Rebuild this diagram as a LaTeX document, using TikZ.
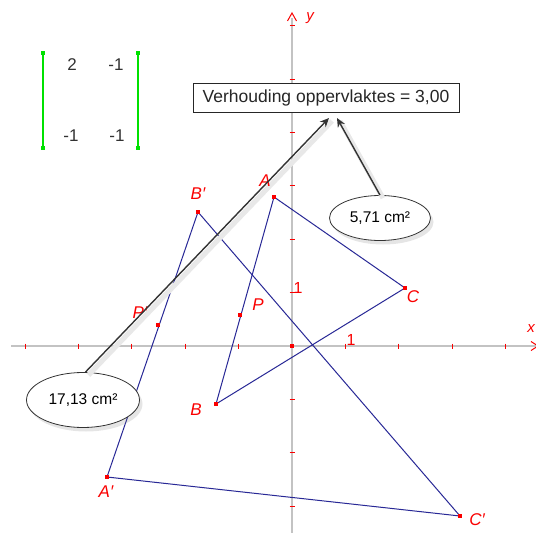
\documentclass[tikz,border=0pt]{standalone}
\usepackage{fontspec}
\setmainfont{Liberation Sans}
\usetikzlibrary{arrows.meta,shapes.geometric,shadows}
\definecolor{polyblue}{RGB}{40,40,150}
\definecolor{axisgray}{RGB}{195,195,195}
\definecolor{ptred}{RGB}{250,0,0}
\definecolor{mgreen}{RGB}{0,225,0}
\definecolor{numgray}{RGB}{50,50,50}
\tikzset{
  pt/.style={fill=ptred, inner sep=0pt, minimum size=4pt, rectangle},
  gpt/.style={fill=mgreen, inner sep=0pt, minimum size=4pt, rectangle},
  plabel/.style={text=ptred, font=\fontsize{17}{19}\selectfont\itshape, inner sep=0pt},
  tlabel/.style={text=ptred, font=\fontsize{16}{18}\selectfont, inner sep=0pt},
  side/.style={draw=polyblue, line width=1pt},
  num/.style={text=numgray, font=\fontsize{17}{19}\selectfont, inner sep=0pt},
  areaell/.style={draw=black!80, ellipse, fill=white, line width=0.8pt, inner sep=0pt,
     font=\fontsize{15.5}{18}\selectfont, drop shadow={shadow xshift=3pt, shadow yshift=-4pt, opacity=0.2}},
  callout/.style={draw=black!80, line width=1.4pt, -{Stealth[length=9pt,width=8pt]}},
  calloutshadow/.style={draw=black!9, line width=5pt},
  tickmark/.style={draw=ptred, line width=0.8pt}
}
\begin{document}
\begin{tikzpicture}[x=1pt,y=-1pt]
\useasboundingbox[fill=white] (0,0) rectangle (536,533);
% axes
\draw[axisgray, line width=1.2pt] (11,346) -- (536,346);
\draw[axisgray, line width=1.2pt] (292,533) -- (292,18);
\draw[ptred, line width=1pt] (287.5,21) -- (292,13) -- (296.5,21);
\draw[ptred, line width=1pt] (531,341.5) -- (538,346) -- (531,350.5);
\node[text=ptred, font=\fontsize{15}{17}\selectfont\itshape, inner sep=0pt] (ylab) at (310,18) {y};
\node[text=ptred, font=\fontsize{15}{17}\selectfont\itshape, inner sep=0pt] (xlab) at (531,329) {x};
\foreach \k in {-5,-4,-3,-2,-1,1,2,3,4} {
  \draw[tickmark] (292+53.4*\k,343.5) -- (292+53.4*\k,348.5);
}
\foreach \k in {-3,-2,-1,1,2,3,4,5,6} {
  \draw[tickmark] (289.5,346-53.4*\k) -- (294.5,346-53.4*\k);
}
\node[tlabel] (xone) at (351,340) {1};
\node[tlabel] (yone) at (298,288) {1};
\node[pt] (O) at (292,346) {};
% matrix
\node[gpt] (m1) at (43,53) {};
\node[gpt] (m2) at (43,148) {};
\node[gpt] (m3) at (138,53) {};
\node[gpt] (m4) at (138,148) {};
\draw[mgreen, line width=1.3pt] (m1.center) -- (m2.center);
\draw[mgreen, line width=1.3pt] (m3.center) -- (m4.center);
\node[num] (a11) at (72,65) {2};
\node[num] (a12) at (116,65) {-1};
\node[num] (a21) at (71,136) {-1};
\node[num] (a22) at (117,136) {-1};
% triangles
\coordinate (A) at (274,197);
\coordinate (B) at (216,404);
\coordinate (C) at (405,288);
\coordinate (A') at (107,477);
\coordinate (B') at (198,212);
\coordinate (C') at (460,516);
\draw[side] (A) -- (B) -- (C) -- cycle;
\draw[side] (A') -- (B') -- (C') -- cycle;
% ratio box
\node[draw=black!85, fill=white, line width=0.9pt, minimum width=266pt, minimum height=29pt, inner sep=0pt,
      font=\fontsize{17.5}{20}\selectfont, text=black!85] (ratio) at (326,97.5) {Verhouding oppervlaktes = 3,00};
% area ellipses
\node[areaell, minimum width=101pt, minimum height=45pt] (e2) at (380,218) {5,71 cm²};
\node[areaell, minimum width=113pt, minimum height=55pt] (e1) at (83,400) {17,13 cm²};
\coordinate (t1) at (329,118);
\coordinate (t2) at (337,118);
% callout shadows
\draw[calloutshadow] ([xshift=3pt,yshift=-3pt]e1.85) -- ([xshift=3pt,yshift=-3pt]t1);
\draw[calloutshadow] ([xshift=3pt,yshift=-3pt]e2.north) -- ([xshift=3pt,yshift=-3pt]t2);
% points and labels
\node[pt] (PA) at (A) {};
\node[pt] (PB) at (B) {};
\node[pt] (PC) at (C) {};
\node[pt] (PA2) at (A') {};
\node[pt] (PB2) at (B') {};
\node[pt] (PC2) at (C') {};
\node[pt] (P) at (240,315) {};
\node[pt] (P2) at (158,325) {};
\node[plabel] (lA) at (265,181) {A};
\node[plabel] (lB) at (196,410) {B};
\node[plabel] (lC) at (413,297) {C};
\node[plabel] (lP) at (258,305) {P};
\node[plabel] (lA2) at (106,492) {A′};
\node[plabel] (lB2) at (198,194) {B′};
\node[plabel] (lC2) at (477,520) {C′};
\node[plabel] (lP2) at (140,313) {P′};
% callout arrows
\draw[callout] (e1.85) -- (t1);
\draw[callout] (e2.north) -- (t2);
\end{tikzpicture}
\end{document}
